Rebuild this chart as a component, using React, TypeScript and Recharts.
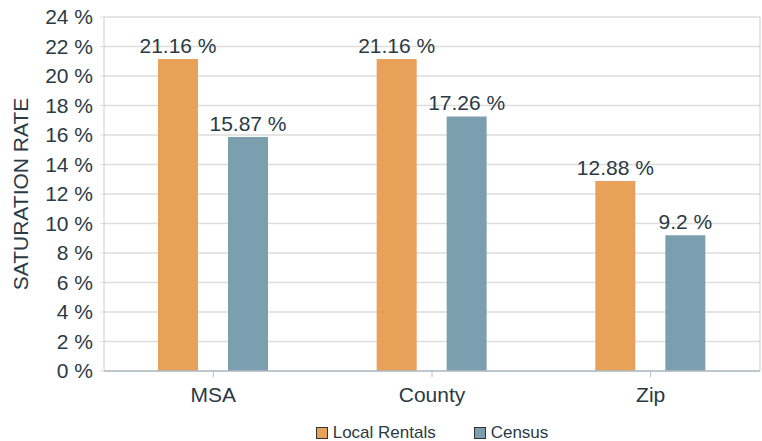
import React from 'react';
import {
  BarChart,
  Bar,
  XAxis,
  YAxis,
  CartesianGrid,
  Legend,
  LabelList,
  Label,
} from 'recharts';

const categories = ['MSA', 'County', 'Zip'];
const localRentals = [21.16, 21.16, 12.88];
const census = [15.87, 17.26, 9.2];
const yTicks = [0, 2, 4, 6, 8, 10, 12, 14, 16, 18, 20, 22, 24];

const ORANGE = '#E8A158';
const BLUE = '#7B9FAF';
const TEXT = '#2b3a44';
const FONT = '"Liberation Sans", Arial, sans-serif';

const data = categories.map((name, i) => ({
  name,
  local: localRentals[i],
  census: census[i],
}));

const pct = (v: number) => `${v} %`;

const legendItems = [
  { name: 'Local Rentals', color: ORANGE },
  { name: 'Census', color: BLUE },
];

// value above each bar, kept on one line
const renderValue = (props: any) => {
  const { x, y, width, value } = props;
  return (
    <text
      x={Number(x) + Number(width) / 2}
      y={Number(y) - 6}
      textAnchor="middle"
      fill={TEXT}
      fontSize={21}
    >
      {pct(value)}
    </text>
  );
};

// legend drawn centred under the plot area
const CustomLegend = () => (
  <div
    style={{
      display: 'flex',
      justifyContent: 'center',
      gap: 38,
      height: 16,
      lineHeight: '16px',
      fontSize: 17,
      fontFamily: FONT,
      color: TEXT,
    }}
  >
    {legendItems.map((item) => (
      <div key={item.name} style={{ display: 'flex', alignItems: 'center', gap: 5 }}>
        <div
          style={{
            width: 12,
            height: 12,
            boxSizing: 'border-box',
            border: '1px solid #333',
            backgroundColor: item.color,
          }}
        />
        <span>{item.name}</span>
      </div>
    ))}
  </div>
);

export default function App() {
  return (
    <div style={{ width: 762, height: 441 }}>
      <style>{'body{margin:0}'}</style>
      <BarChart
        width={762}
        height={441}
        data={data}
        margin={{ top: 17, right: 0, left: 0, bottom: 0 }}
        barSize={40}
        barGap={30}
        style={{ fontFamily: FONT }}
      >
        <CartesianGrid vertical={false} stroke="#dddddd" strokeWidth={1.5} />
        <XAxis
          dataKey="name"
          height={54}
          tickSize={6}
          tickMargin={10}
          axisLine={{ stroke: '#b0bcc6', strokeWidth: 1.5 }}
          tickLine={{ stroke: '#b0bcc6' }}
          tick={{ fill: TEXT, fontSize: 21 }}
        />
        <YAxis
          domain={[0, 24]}
          ticks={yTicks}
          width={104}
          tickFormatter={pct}
          tickSize={4}
          tickMargin={7}
          axisLine={{ stroke: '#cccccc' }}
          tickLine={{ stroke: '#dddddd' }}
          tick={{ fill: TEXT, fontSize: 21 }}
          interval={0}
        >
          <Label
            content={({ viewBox }) => {
              const { x, y, height } = viewBox as { x: number; y: number; height: number };
              const cx = x + 22;
              const cy = y + height / 2;
              return (
                <text
                  x={cx}
                  y={cy}
                  transform={`rotate(-90 ${cx} ${cy})`}
                  textAnchor="middle"
                  dominantBaseline="middle"
                  fill={TEXT}
                  fontSize={21}
                >
                  SATURATION RATE
                </text>
              );
            }}
          />
        </YAxis>
        <YAxis
          yAxisId="right"
          orientation="right"
          width={2}
          domain={[0, 24]}
          tick={false}
          axisLine={{ stroke: '#cccccc' }}
        />
        <Legend verticalAlign="bottom" content={<CustomLegend />} wrapperStyle={{ left: 104, width: 656 }} />
        <Bar dataKey="local" name="Local Rentals" fill={ORANGE} isAnimationActive={false}>
          <LabelList dataKey="local" content={renderValue} />
        </Bar>
        <Bar dataKey="census" name="Census" fill={BLUE} isAnimationActive={false}>
          <LabelList dataKey="census" content={renderValue} />
        </Bar>
      </BarChart>
    </div>
  );
}
